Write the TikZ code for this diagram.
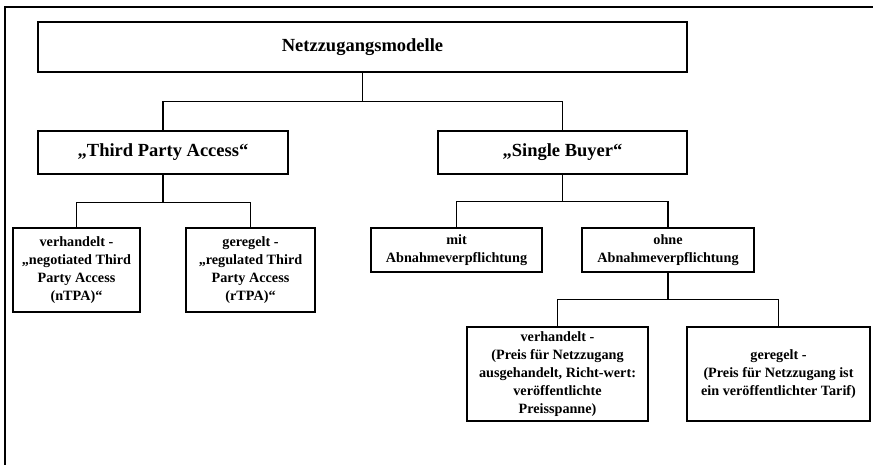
\documentclass[tikz,border=0pt]{standalone}
\usepackage{fontspec}
\setmainfont{Liberation Serif}
\usepackage{tikz}

\begin{document}
\begin{tikzpicture}[x=1pt,y=-1pt,line width=1.1pt,
        box/.style={draw,rectangle,align=center,inner sep=2pt,font=\bfseries\fontsize{14.2}{18}\selectfont},
        bigbox/.style={box,font=\bfseries\fontsize{18.5}{22}\selectfont}]
        \useasboundingbox (0,0) rectangle (873,464);
        \draw (5,480) -- (5,7) -- (890,7);

        \node[bigbox,minimum width=649pt,minimum height=50pt] (modelle) at (362.5,47) {Netzzugangsmodelle};
        \node[bigbox,minimum width=250pt,minimum height=43pt] (tpa) at (163,152.5) {„Third Party Access“};
        \node[bigbox,minimum width=249pt,minimum height=43pt] (sb) at (562.5,152.5) {„Single Buyer“};

        \node[box,minimum width=127pt,minimum height=84pt] (ntpa) at (76.5,270) {verhandelt -\\„negotiated Third\\Party Access\\(nTPA)“};
        \node[box,minimum width=129pt,minimum height=84pt] (rtpa) at (250.5,270) {geregelt -\\„regulated Third\\Party Access\\(rTPA)“};
        \node[box,minimum width=171pt,minimum height=44pt] (mit) at (456.5,250) {mit\\Abnahmeverpflichtung};
        \node[box,minimum width=172pt,minimum height=44pt] (ohne) at (668,250) {ohne\\Abnahmeverpflichtung};

        \node[box,minimum width=181pt,minimum height=94pt] (verh) at (557.5,374) {verhandelt -\\(Preis für Netzzugang\\ausgehandelt, Richt-wert:\\veröffentlichte\\Preisspanne)};
        \node[box,minimum width=183pt,minimum height=94pt] (geregelt) at (778.5,374) {geregelt -\\(Preis für Netzzugang ist\\ein veröffentlichter Tarif)};

        \draw (modelle.south) -- ++(0,29) -| (tpa.north);
        \draw (modelle.south) -- ++(0,29) -| (sb.north);
        \draw (tpa.south) -- ++(0,28) -| (ntpa.north);
        \draw (tpa.south) -- ++(0,28) -| (rtpa.north);
        \draw (sb.south) -- ++(0,27) -| (mit.north);
        \draw (sb.south) -- ++(0,27) -| (ohne.north);
        \draw (ohne.south) -- ++(0,27) -| (verh.north);
        \draw (ohne.south) -- ++(0,27) -| (geregelt.north);
\end{tikzpicture}
\end{document}
